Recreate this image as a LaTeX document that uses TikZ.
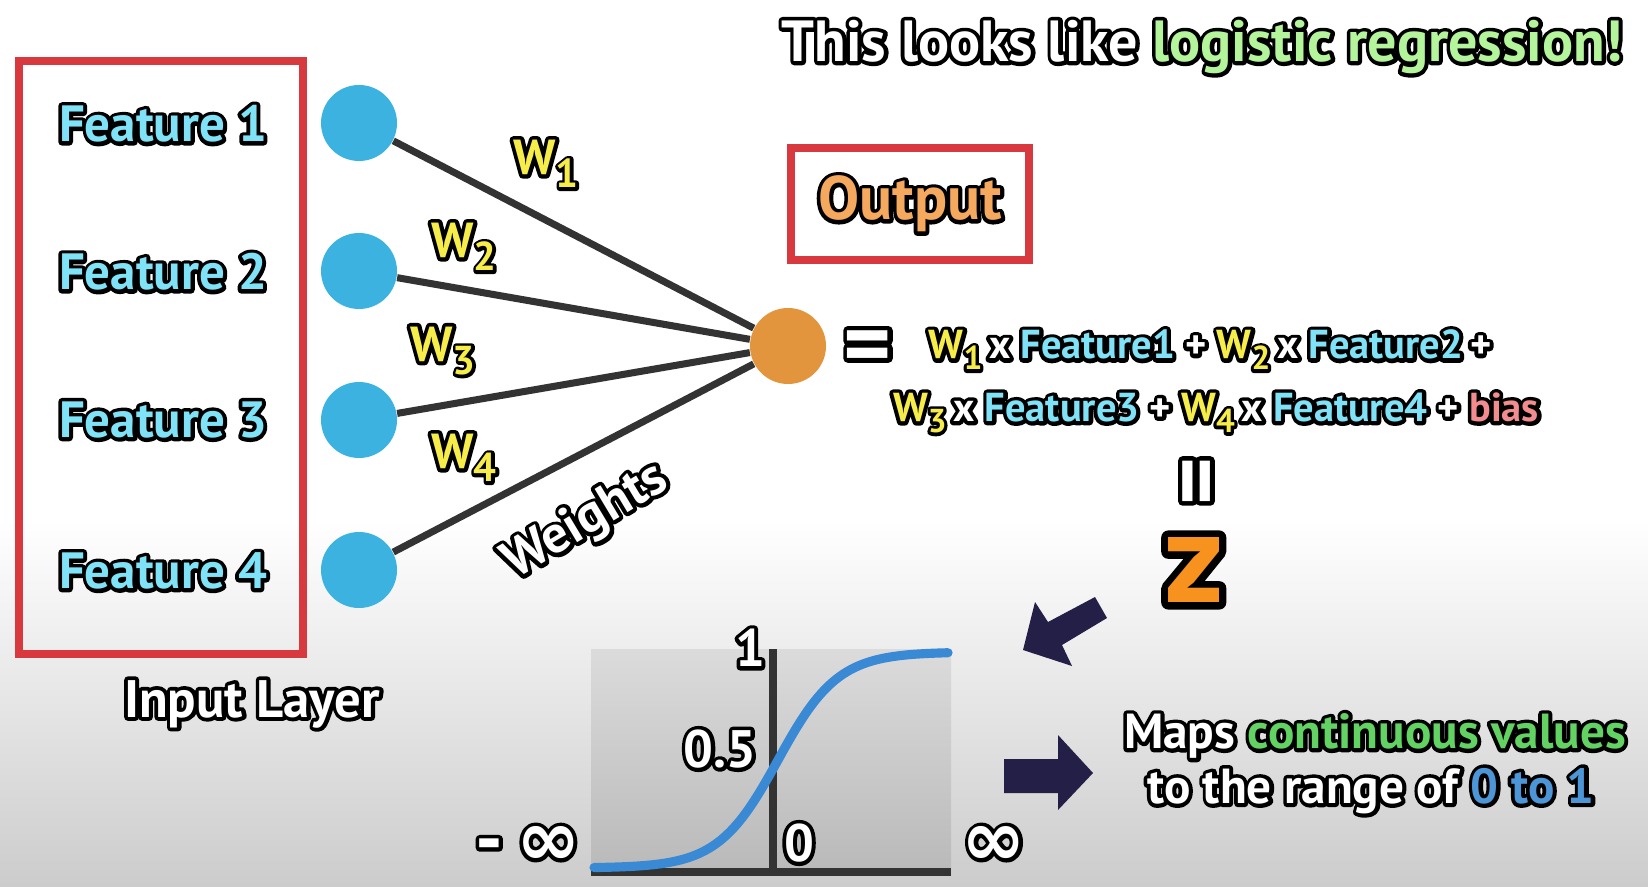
\documentclass[tikz,border=0pt]{standalone}
\usepackage{fontspec}
\setmainfont{PT Sans}
\newfontfamily\symfont{DejaVu Sans}
\usepackage{graphicx}
\usetikzlibrary{positioning}

\definecolor{featcyan}{HTML}{80E2F6}
\definecolor{wyellow}{HTML}{F6EC4A}
\definecolor{outorange}{HTML}{F5A95E}
\definecolor{boxred}{HTML}{D8393F}
\definecolor{dotblue}{HTML}{3BB2DF}
\definecolor{dotorange}{HTML}{E2953D}
\definecolor{wiregray}{HTML}{333333}
\definecolor{lightgreen}{HTML}{B4F59C}
\definecolor{midgreen}{HTML}{62D263}
\definecolor{biaspink}{HTML}{F28C8E}
\definecolor{rangeblue}{HTML}{4C95D6}
\definecolor{zorange}{HTML}{F7921E}
\definecolor{arrownavy}{HTML}{231F47}
\definecolor{sigblue}{HTML}{3A89D5}

% outlined text: black stroked copy under the filled one
\newcommand{\olt}[3][2.2]{\leavevmode\rlap{\special{pdf:literal direct 1 Tr 1 j #1 w}\textcolor{black}{#3}\special{pdf:literal direct 0 Tr}}\textcolor{#2}{#3}}
\newcommand{\wlab}[1]{\olt{wyellow}{W}\raisebox{-0.55ex}{\scalebox{0.82}{\olt{wyellow}{#1}}}}

\begin{document}
\begin{tikzpicture}[x=0.1mm,y=-0.1mm,
    dot/.style={circle, fill=dotblue, inner sep=0pt, minimum size=7.6mm},
    wire/.style={wiregray, line width=2pt},
    redbox/.style={boxred, line width=2.3pt},
    feat/.style={font=\fontsize{14.5}{18}\selectfont\bfseries},
    wfont/.style={font=\fontsize{14}{16}\selectfont\bfseries},
    eqfont/.style={font=\fontsize{11.5}{14}\selectfont\bfseries},
    bigfont/.style={font=\fontsize{15}{18}\selectfont\bfseries},
    axis/.style={wiregray, line width=2.3pt},
    navy/.style={fill=arrownavy}]
    \useasboundingbox (0,0) rectangle (1648,886);
    % ==== BACKGROUND ====
    \fill[white] (0,0) rectangle (1648,886);
    \shade[top color=white, bottom color=gray!40] (0,520) rectangle (1648,886);

    % ==== TITLE ====
    \node[font=\fontsize{16.5}{20}\selectfont\bfseries] (title) at (1202,47)
        {\olt{white}{This looks like} \olt{lightgreen}{logistic regression!}};

    % ==== INPUT LAYER ====
    \draw[redbox] (19,61) rectangle (303,654);
    \node[feat] (f1) at (163,124) {\olt{featcyan}{Feature 1}};
    \node[feat] (f2) at (163,272) {\olt{featcyan}{Feature 2}};
    \node[feat] (f3) at (163,420) {\olt{featcyan}{Feature 3}};
    \node[feat] (f4) at (163,571) {\olt{featcyan}{Feature 4}};
    \node[bigfont] (inlayer) at (252,704) {\olt{white}{Input Layer}};

    \node[dot] (in1) at (359,123) {};
    \node[dot] (in2) at (359,271) {};
    \node[dot] (in3) at (359,420) {};
    \node[dot] (in4) at (359,570) {};
    \node[dot, fill=dotorange] (out) at (788,346) {};

    % ==== WEIGHTS ====
    \foreach \i in {1,...,4}
        \draw[wire] (in\i) -- (out);
    \node[wfont] (w1) at (546,164) {\wlab{1}};
    \node[wfont] (w2) at (464,247) {\wlab{2}};
    \node[wfont] (w3) at (443,351) {\wlab{3}};
    \node[wfont] (w4) at (464,458) {\wlab{4}};
    \node[bigfont, rotate=31] (weights) at (586,522) {\olt{white}{Weights}};

    % ==== OUTPUT ====
    \draw[redbox] (791,148) rectangle (1029,260);
    \node[font=\fontsize{17.5}{22}\selectfont\bfseries] (outlab) at (910,204)
        {\olt{outorange}{Output}};

    % ==== EQUATION ====
    \node[font=\fontsize{26}{28}\selectfont\bfseries] (eqsign) at (868,353)
        {\olt[2.6]{white}{=}};
    \node[eqfont] (eq1) at (1210,350)
        {\wlab{1}\,\olt{white}{x} \olt{featcyan}{Feature1} \olt{white}{+} \wlab{2}\,\olt{white}{x} \olt{featcyan}{Feature2}\,\olt{white}{+}};
    \node[eqfont] (eq2) at (1216,413)
        {\wlab{3}\,\olt{white}{x} \olt{featcyan}{Feature3} \olt{white}{+} \wlab{4}\,\olt{white}{x} \olt{featcyan}{Feature4} \olt{white}{+} \olt{biaspink}{bias}};
    \node[font=\fontsize{26}{28}\selectfont\bfseries, rotate=90] (vsign) at (1205,481)
        {\olt[2.6]{white}{=}};
    \node[font=\fontsize{37}{40}\selectfont\bfseries] (z) at (1194,570)
        {\olt[4]{zorange}{z}};

    % ==== ARROWS ====
    \fill[navy] (1023,650) -- (1035,602) -- (1048,622) -- (1095,597)
        -- (1107,618) -- (1062,645) -- (1072,666) -- cycle;
    \fill[navy] (1004,759) -- (1058,759) -- (1058,735) -- (1093,773)
        -- (1058,810) -- (1058,793) -- (1004,793) -- cycle;

    % ==== SIGMOID ====
    \shade[top color=gray!28, bottom color=gray!55] (591,649) rectangle (951,875);
    \draw[axis] (773,649) -- (773,874);
    \draw[axis] (591,872) -- (951,872);
    \draw[sigblue, line width=2.6pt, line cap=round, samples=120, domain=594:948]
        plot (\x, {868 - 216/(1+exp(-(\x-778)/30))});
    \node[bigfont] (one) at (750,648) {\olt{white}{1}};
    \node[bigfont] (half) at (720,749) {\olt{white}{0.5}};
    \node[bigfont] (zero) at (799,843) {\olt{white}{0}};
    \node[font=\fontsize{22}{24}\selectfont\bfseries] (minf) at (528,846)
        {\olt{white}{-\,{\symfont\bfseries ∞}}};
    \node[font=\fontsize{22}{24}\selectfont\bfseries] (pinf) at (994,846)
        {\olt{white}{{\symfont\bfseries ∞}}};

    % ==== CAPTION ====
    \node[font=\fontsize{14}{17}\selectfont\bfseries] (maps1) at (1375,736)
        {\olt{white}{Maps} \olt{midgreen}{continuous values}};
    \node[font=\fontsize{14}{17}\selectfont\bfseries] (maps2) at (1371,791)
        {\olt{white}{to the range of} \olt{rangeblue}{0 to 1}};
\end{tikzpicture}
\end{document}
